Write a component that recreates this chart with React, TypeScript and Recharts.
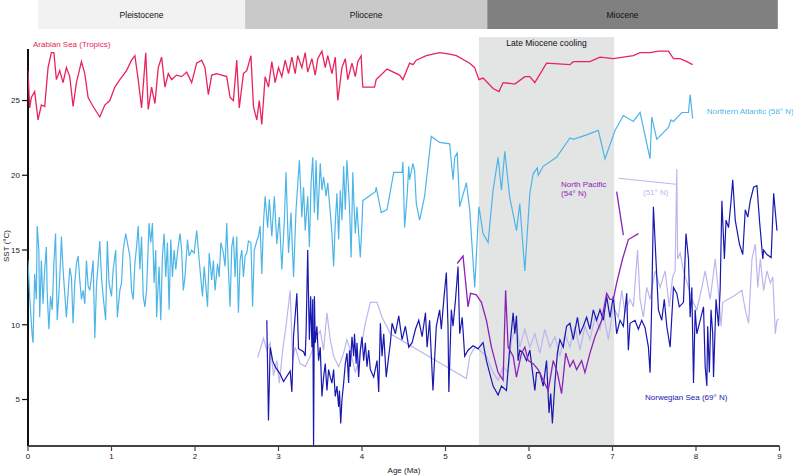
import React from 'react';
import { BarChart, Bar, ComposedChart, Line, XAxis, YAxis, ReferenceArea, ReferenceLine, LabelList } from 'recharts';

type Pt = [number, number]; // [age in Ma, SST in °C]

const ageTicks = [0, 1, 2, 3, 4, 5, 6, 7, 8, 9];
const sstTicks = [5, 10, 15, 20, 25];

const eraNames = ['Pleistocene', 'Pliocene', 'Miocene'];
const eraStart = [0.12, 2.6, 5.5];
const eraEnd = [2.6, 5.5, 8.98];
const eraFills = ['#f2f2f2', '#c9c9c9', '#808080'];
const eraLabelShift = [0, 0, -10];

const coolingStart = 5.4;
const coolingEnd = 7.02;

const arabianSea: Pt[] = [
  [0, 27.0], [0.02, 24.5], [0.04, 25.2], [0.08, 25.6], [0.12, 23.7], [0.16, 24.7], [0.2, 24.6], [0.24, 27.2],
  [0.28, 28.2], [0.31, 28.2], [0.34, 26.4], [0.38, 27.0], [0.42, 26.2], [0.46, 27.2], [0.5, 26.6], [0.54, 24.6],
  [0.58, 26.2], [0.64, 27.6], [0.68, 26.8], [0.72, 25.2], [0.78, 24.6], [0.86, 23.9], [0.92, 24.7], [0.98, 25.0],
  [1.04, 25.9], [1.1, 26.4], [1.18, 27.0], [1.24, 27.7], [1.28, 28.0], [1.32, 26.4], [1.36, 24.5], [1.41, 28.2],
  [1.44, 24.4], [1.48, 25.9], [1.52, 24.8], [1.56, 27.2], [1.6, 27.9], [1.64, 25.9], [1.68, 26.8], [1.72, 26.4],
  [1.78, 26.7], [1.84, 26.6], [1.9, 26.9], [1.96, 26.2], [2.02, 27.5], [2.08, 27.7], [2.12, 27.2], [2.16, 25.4],
  [2.2, 26.7], [2.26, 26.8], [2.32, 26.7], [2.38, 26.6], [2.42, 25.2], [2.46, 25.0], [2.5, 27.7], [2.53, 24.5],
  [2.58, 26.8], [2.62, 27.0], [2.67, 28.0], [2.7, 24.6], [2.74, 23.7], [2.77, 25.0], [2.8, 23.4], [2.84, 26.6],
  [2.88, 25.9], [2.92, 27.6], [2.96, 26.2], [3.0, 27.2], [3.04, 26.6], [3.08, 27.7], [3.12, 26.8], [3.16, 27.9],
  [3.2, 26.8], [3.23, 28.0], [3.28, 27.2], [3.32, 28.2], [3.35, 26.9], [3.4, 27.8], [3.44, 26.7], [3.47, 27.8],
  [3.52, 28.3], [3.56, 27.2], [3.59, 28.0], [3.64, 26.8], [3.68, 27.9], [3.71, 25.0], [3.76, 27.2], [3.8, 27.8],
  [3.83, 26.4], [3.88, 27.5], [3.92, 26.6], [3.95, 27.6], [3.99, 28.0], [4.0, 26.8], [4.01, 25.9], [4.15, 25.9],
  [4.17, 26.4], [4.3, 27.1], [4.45, 26.7], [4.49, 26.4], [4.57, 27.5], [4.61, 27.4], [4.65, 27.7], [4.77, 28.0],
  [4.93, 28.2], [5.05, 28.1], [5.13, 28.0], [5.29, 27.5], [5.35, 27.2], [5.4, 26.4], [5.45, 26.5], [5.57, 25.8],
  [5.64, 25.6], [5.69, 26.2], [5.83, 26.1], [5.95, 26.6], [6.01, 26.6], [6.07, 26.2], [6.21, 27.5], [6.49, 27.4],
  [6.53, 27.6], [6.73, 27.6], [6.85, 27.9], [7.01, 27.8], [7.25, 28.0], [7.33, 28.2], [7.45, 28.2], [7.55, 28.3],
  [7.67, 28.3], [7.73, 27.8], [7.81, 27.8], [7.89, 27.6], [7.96, 27.4],
];

const northAtlantic: Pt[] = [
  [0, 14.3], [0.02, 11.9], [0.05, 9.3], [0.06, 8.8], [0.08, 13.4], [0.1, 11.7], [0.11, 16.6], [0.13, 15.0],
  [0.14, 10.5], [0.16, 14.3], [0.18, 11.4], [0.2, 13.7], [0.22, 15.2], [0.23, 12.1], [0.25, 9.7], [0.27, 11.9],
  [0.29, 11.0], [0.31, 14.1], [0.33, 16.1], [0.35, 10.3], [0.37, 12.1], [0.39, 14.3], [0.4, 15.9], [0.42, 13.7],
  [0.44, 12.1], [0.46, 10.5], [0.48, 12.1], [0.5, 13.8], [0.52, 13.2], [0.54, 10.1], [0.56, 12.8], [0.58, 14.1],
  [0.6, 14.6], [0.62, 13.0], [0.64, 11.7], [0.66, 12.3], [0.68, 11.4], [0.7, 14.3], [0.72, 12.6], [0.74, 12.3],
  [0.76, 13.2], [0.78, 14.3], [0.8, 9.1], [0.82, 12.6], [0.84, 14.1], [0.86, 15.6], [0.88, 13.2], [0.9, 11.9],
  [0.93, 10.3], [0.95, 15.6], [0.97, 12.8], [1.0, 11.9], [1.02, 13.7], [1.05, 15.0], [1.07, 10.5], [1.1, 12.3],
  [1.12, 12.8], [1.14, 15.0], [1.17, 16.1], [1.2, 15.2], [1.22, 14.6], [1.24, 12.3], [1.26, 11.7], [1.28, 14.1],
  [1.3, 15.2], [1.32, 16.6], [1.34, 13.7], [1.36, 15.9], [1.38, 11.9], [1.4, 11.2], [1.42, 12.3], [1.45, 16.8],
  [1.47, 15.5], [1.49, 16.8], [1.51, 12.8], [1.53, 15.0], [1.54, 10.5], [1.57, 13.9], [1.59, 10.3], [1.61, 14.6],
  [1.63, 16.1], [1.65, 13.2], [1.67, 15.5], [1.69, 11.0], [1.71, 15.7], [1.73, 13.2], [1.75, 15.0], [1.77, 13.7],
  [1.79, 14.8], [1.82, 16.1], [1.84, 15.0], [1.86, 12.3], [1.88, 13.2], [1.91, 15.7], [1.93, 14.6], [1.96, 15.0],
  [1.99, 14.8], [2.02, 16.3], [2.04, 15.0], [2.06, 13.7], [2.09, 11.9], [2.11, 13.9], [2.13, 12.6], [2.15, 11.2],
  [2.17, 14.8], [2.2, 13.0], [2.22, 14.3], [2.24, 12.3], [2.27, 14.1], [2.29, 13.2], [2.31, 15.5], [2.34, 14.8],
  [2.36, 13.9], [2.38, 16.8], [2.4, 13.7], [2.42, 11.2], [2.44, 15.2], [2.46, 15.9], [2.48, 13.2], [2.5, 15.9],
  [2.52, 10.8], [2.54, 14.3], [2.56, 15.0], [2.58, 13.2], [2.6, 14.6], [2.62, 14.8], [2.64, 15.6], [2.67, 15.5],
  [2.69, 11.2], [2.71, 15.0], [2.74, 15.6], [2.76, 15.9], [2.78, 16.6], [2.8, 13.4], [2.82, 16.8], [2.84, 18.6],
  [2.87, 16.5], [2.89, 18.4], [2.92, 15.9], [2.95, 18.6], [2.98, 15.4], [3.01, 17.2], [3.04, 13.7], [3.07, 17.0],
  [3.09, 20.2], [3.12, 14.8], [3.15, 17.5], [3.18, 13.2], [3.21, 17.7], [3.25, 21.0], [3.28, 17.2], [3.3, 19.2],
  [3.32, 16.3], [3.35, 18.6], [3.37, 15.2], [3.39, 19.5], [3.41, 21.2], [3.43, 17.5], [3.45, 21.0], [3.47, 17.0],
  [3.5, 20.8], [3.52, 19.0], [3.54, 19.9], [3.57, 18.6], [3.59, 19.5], [3.62, 17.5], [3.64, 16.1], [3.66, 13.9],
  [3.68, 16.8], [3.7, 18.8], [3.72, 15.7], [3.74, 19.0], [3.76, 17.0], [3.78, 20.6], [3.8, 17.7], [3.82, 21.0],
  [3.85, 17.9], [3.87, 14.5], [3.89, 20.2], [3.9, 18.6], [3.92, 16.1], [3.94, 17.9], [3.96, 16.1], [3.98, 14.5],
  [4.0, 16.8], [4.01, 18.3], [4.16, 18.9], [4.17, 19.2], [4.23, 17.5], [4.3, 17.7], [4.38, 20.2], [4.48, 20.2],
  [4.49, 20.9], [4.51, 16.5], [4.54, 18.6], [4.56, 20.6], [4.57, 19.7], [4.61, 20.8], [4.63, 20.3], [4.65, 18.1],
  [4.69, 17.0], [4.75, 18.6], [4.83, 22.6], [4.93, 22.2], [5.05, 22.1], [5.09, 19.7], [5.11, 21.2], [5.14, 21.5],
  [5.17, 17.9], [5.25, 19.5], [5.29, 17.7], [5.35, 12.5], [5.4, 17.9], [5.45, 16.1], [5.51, 15.5], [5.57, 19.0],
  [5.63, 21.2], [5.67, 19.0], [5.71, 21.6], [5.77, 18.5], [5.85, 16.3], [5.89, 18.1], [5.95, 13.6], [6.01, 18.8],
  [6.05, 20.1], [6.1, 20.5], [6.11, 20.0], [6.17, 20.6], [6.33, 21.2], [6.49, 22.5], [6.53, 22.4], [6.69, 22.7],
  [6.83, 23.0], [6.91, 21.1], [7.03, 23.0], [7.13, 24.0], [7.25, 23.6], [7.33, 24.2], [7.45, 21.1], [7.47, 23.9],
  [7.53, 22.4], [7.67, 23.2], [7.7, 23.7], [7.73, 23.6], [7.83, 24.2], [7.91, 24.2], [7.93, 25.4], [7.96, 23.8],
];

const norwegianSea: Pt[] = [
  [2.86, 10.3], [2.88, 3.6], [2.9, 8.5], [2.93, 7.6], [2.96, 7.2], [3.02, 6.7], [3.06, 6.2], [3.14, 6.9],
  [3.16, 5.5], [3.18, 9.2], [3.22, 12.1], [3.24, 8.4], [3.3, 8.2], [3.32, 7.9], [3.33, 9.4], [3.35, 15.0],
  [3.36, 11.7], [3.37, 9.0], [3.385, 11.9], [3.4, 8.5], [3.41, 11.7], [3.42, 1.8], [3.43, 11.9], [3.44, 8.8],
  [3.46, 9.9], [3.48, 7.6], [3.5, 8.5], [3.52, 5.2], [3.54, 6.5], [3.56, 7.4], [3.58, 5.6], [3.6, 7.0],
  [3.62, 6.5], [3.64, 6.1], [3.66, 7.0], [3.68, 5.2], [3.7, 5.9], [3.72, 4.5], [3.73, 5.6], [3.745, 3.4],
  [3.76, 5.0], [3.78, 6.1], [3.8, 7.4], [3.82, 8.1], [3.84, 6.1], [3.85, 8.3], [3.86, 7.2], [3.88, 9.2],
  [3.9, 7.9], [3.91, 9.4], [3.93, 7.4], [3.94, 8.8], [3.96, 6.5], [3.98, 8.3], [4.0, 9.2], [4.02, 7.6],
  [4.04, 8.8], [4.06, 7.2], [4.08, 8.3], [4.1, 7.0], [4.14, 6.5], [4.18, 7.6], [4.2, 5.5], [4.22, 10.1],
  [4.24, 7.9], [4.26, 9.4], [4.29, 6.5], [4.32, 7.9], [4.34, 8.8], [4.36, 10.1], [4.4, 9.4], [4.44, 10.6],
  [4.48, 9.0], [4.52, 9.9], [4.56, 8.5], [4.6, 8.8], [4.64, 9.7], [4.68, 10.3], [4.72, 9.2], [4.76, 10.8],
  [4.78, 8.5], [4.81, 10.3], [4.85, 5.6], [4.89, 9.9], [4.93, 11.0], [4.95, 9.7], [4.98, 11.7], [5.01, 13.5],
  [5.03, 9.9], [5.04, 5.5], [5.07, 11.0], [5.09, 9.9], [5.12, 11.7], [5.15, 13.9], [5.17, 9.4], [5.2, 10.5],
  [5.23, 7.9], [5.27, 8.3], [5.33, 8.6], [5.39, 8.4], [5.45, 8.8], [5.49, 7.6], [5.57, 5.9], [5.63, 5.3],
  [5.67, 5.9], [5.73, 5.6], [5.77, 8.5], [5.81, 10.8], [5.83, 9.4], [5.85, 10.6], [5.87, 7.6], [5.89, 8.3],
  [5.93, 8.1], [5.97, 7.6], [6.01, 8.3], [6.07, 5.6], [6.09, 6.8], [6.13, 6.8], [6.17, 5.9], [6.21, 7.6],
  [6.24, 4.1], [6.26, 5.4], [6.28, 3.4], [6.31, 6.1], [6.34, 8.1], [6.37, 9.0], [6.41, 8.5], [6.45, 9.9],
  [6.49, 10.1], [6.53, 9.0], [6.58, 10.5], [6.61, 9.4], [6.65, 9.9], [6.69, 10.5], [6.73, 9.7], [6.77, 11.0],
  [6.81, 10.3], [6.85, 11.0], [6.89, 10.3], [6.93, 11.9], [6.97, 10.5], [7.01, 11.9], [7.05, 9.4], [7.09, 10.3],
  [7.13, 9.9], [7.17, 12.1], [7.19, 8.3], [7.21, 10.1], [7.27, 10.3], [7.31, 9.7], [7.35, 10.3], [7.39, 9.8],
  [7.43, 8.5], [7.45, 6.8], [7.47, 11.5], [7.49, 17.9], [7.52, 14.4], [7.55, 11.0], [7.59, 10.3], [7.62, 11.7],
  [7.65, 9.9], [7.69, 8.5], [7.73, 12.5], [7.77, 12.1], [7.8, 11.2], [7.85, 11.5], [7.88, 16.1], [7.91, 14.4],
  [7.93, 10.5], [7.95, 12.5], [7.97, 6.1], [7.99, 11.0], [8.01, 9.4], [8.05, 10.3], [8.09, 11.2], [8.11, 7.2],
  [8.13, 5.9], [8.14, 9.9], [8.16, 6.8], [8.18, 11.0], [8.2, 9.4], [8.21, 6.5], [8.24, 11.7], [8.27, 9.9],
  [8.29, 12.5], [8.31, 18.3], [8.34, 14.4], [8.36, 17.0], [8.39, 16.5], [8.42, 18.3], [8.44, 19.7], [8.47, 17.0],
  [8.52, 15.4], [8.56, 14.7], [8.59, 17.7], [8.62, 17.2], [8.65, 18.3], [8.69, 19.2], [8.73, 19.3], [8.76, 17.0],
  [8.8, 14.4], [8.81, 15.0], [8.85, 14.7], [8.9, 14.5], [8.93, 18.8], [8.97, 16.3],
];

const northPacific54: Pt[] = [
  [5.14, 14.1], [5.21, 14.6], [5.27, 11.2], [5.3, 12.1], [5.37, 12.0], [5.43, 11.5], [5.49, 10.3], [5.55, 8.5],
  [5.63, 6.8], [5.69, 6.3], [5.72, 12.3], [5.75, 8.5], [5.81, 7.9], [5.85, 6.5], [5.91, 8.1], [5.95, 8.5],
  [5.99, 7.6], [6.05, 7.4], [6.11, 7.0], [6.17, 6.3], [6.23, 5.6], [6.29, 7.6], [6.34, 6.8], [6.39, 5.4],
  [6.44, 8.1], [6.49, 7.2], [6.53, 7.6], [6.57, 7.0], [6.63, 7.6], [6.67, 6.8], [6.73, 8.1], [6.79, 9.2],
  [6.87, 10.3], [6.93, 12.1], [6.97, 11.7], [7.01, 11.7], [7.05, 12.8], [7.12, 14.4], [7.19, 15.7], [7.31, 16.1],
];
const northPacific54Upper: Pt[] = [[7.05, 18.9], [7.13, 16.0]];

const northPacific51: Pt[] = [
  [2.75, 7.8], [2.82, 9.1], [2.86, 8.3], [2.9, 8.8], [2.94, 6.6], [2.98, 7.6], [3.01, 6.1], [3.05, 8.3],
  [3.09, 9.9], [3.14, 12.3], [3.17, 7.6], [3.2, 8.5], [3.26, 7.4], [3.32, 7.2], [3.38, 7.9], [3.46, 9.2],
  [3.5, 9.6], [3.54, 8.3], [3.58, 10.8], [3.62, 9.0], [3.66, 7.9], [3.72, 7.2], [3.78, 8.1], [3.82, 9.0],
  [3.86, 8.3], [3.92, 6.8], [3.96, 7.6], [4.04, 10.1], [4.1, 11.5], [4.18, 11.5], [4.24, 10.5], [4.34, 9.4],
  [5.25, 6.4], [5.29, 7.9], [5.35, 8.5], [5.41, 8.3], [5.49, 7.9], [5.57, 6.8], [5.63, 6.3], [5.69, 7.2],
  [5.75, 6.8], [5.79, 9.0], [5.85, 9.9], [5.89, 8.5], [5.95, 9.7], [6.01, 8.5], [6.07, 9.4], [6.13, 8.1],
  [6.19, 9.7], [6.25, 8.5], [6.31, 9.2], [6.37, 7.9], [6.43, 9.4], [6.49, 8.5], [6.55, 9.9], [6.61, 8.3],
  [6.67, 9.9], [6.73, 9.0], [6.79, 10.5], [6.85, 9.7], [6.89, 10.8], [6.95, 9.0], [7.01, 11.2], [7.07, 10.5],
  [7.11, 12.3], [7.15, 10.8], [7.21, 11.7], [7.25, 11.2], [7.3, 15.0], [7.33, 11.7], [7.37, 10.5], [7.41, 12.5],
  [7.45, 11.7], [7.51, 13.6], [7.57, 12.5], [7.63, 13.6], [7.68, 11.2], [7.72, 13.2], [7.75, 13.6], [7.77, 20.4],
  [7.78, 14.4], [7.81, 14.8], [7.85, 13.6], [7.91, 12.5], [7.95, 11.7], [8.01, 11.0], [8.07, 12.5], [8.11, 13.6],
  [8.17, 11.7], [8.23, 14.4], [8.27, 12.1], [8.3, 9.9], [8.32, 11.5], [8.45, 11.9], [8.55, 12.3], [8.59, 11.0],
  [8.63, 10.1], [8.67, 14.4], [8.71, 15.4], [8.74, 12.5], [8.77, 14.4], [8.81, 12.3], [8.85, 13.6], [8.89, 12.8],
  [8.92, 13.2], [8.95, 9.4], [8.97, 10.3], [8.99, 10.4],
];
const northPacific51Upper: Pt[] = [[7.07, 19.8], [7.76, 19.4]];

const COLORS = {
  arabian: '#e8245a',
  atlantic: '#4cb5e8',
  norwegian: '#1818b0',
  pacific54: '#8b22b8',
  pacific51: '#bdb6ee',
};

const FONT = '"Liberation Sans", Arial, sans-serif';
const Y_MIN = 1.89;
const Y_MAX = 29.25;
const AXIS_TOP = 28.45;

const toRows = (pts: Pt[]) => pts.map(([age, sst]) => ({ age, sst }));

const eraRow = [
  eraNames.reduce<Record<string, number | string>>(
    (row, name, i) => ({ ...row, [name]: eraEnd[i] - eraStart[i] }),
    { name: 'era', pad: eraStart[0] }
  ),
];

const tickStyle = { fontSize: 8, fill: '#222', fontFamily: FONT };

const label = (left: number, top: number, color: string): React.CSSProperties => ({
  position: 'absolute',
  left,
  top,
  color,
  fontSize: 8,
  lineHeight: '9px',
  fontFamily: FONT,
  whiteSpace: 'nowrap',
});

const series: { key: string; pts: Pt[]; color: string; width: number }[] = [
  { key: 'arabian', pts: arabianSea, color: COLORS.arabian, width: 1.3 },
  { key: 'atlantic', pts: northAtlantic, color: COLORS.atlantic, width: 1.2 },
  { key: 'p51', pts: northPacific51, color: COLORS.pacific51, width: 1.2 },
  { key: 'p51u', pts: northPacific51Upper, color: COLORS.pacific51, width: 1.2 },
  { key: 'norwegian', pts: norwegianSea, color: COLORS.norwegian, width: 1.2 },
  { key: 'p54', pts: northPacific54, color: COLORS.pacific54, width: 1.3 },
  { key: 'p54u', pts: northPacific54Upper, color: COLORS.pacific54, width: 1.3 },
];

// era names drawn in the middle of each stacked segment
const eraLabel = (name: string, shift: number) => (props: any) => {
  const x = Number(props.x) + Number(props.width) / 2 + shift;
  const y = Number(props.y) + Number(props.height) / 2;
  return (
    <text x={x} y={y} textAnchor="middle" dominantBaseline="central" fontSize={8.5} fill="#111" fontFamily={FONT}>
      {name}
    </text>
  );
};

export default function App() {
  return (
    <div style={{ position: 'fixed', left: 0, top: 0, width: 793, height: 476, background: '#fff', fontFamily: FONT }}>
      <div style={{ position: 'absolute', left: 0, top: 0 }}>
        <BarChart
          width={793}
          height={29}
          data={eraRow}
          layout="vertical"
          margin={{ top: 0, right: 13.5, bottom: 0, left: 28 }}
          barCategoryGap={0}
        >
          <XAxis type="number" domain={[0, 9]} hide />
          <YAxis type="category" dataKey="name" hide />
          <Bar dataKey="pad" stackId="era" fill="transparent" isAnimationActive={false} />
          {eraNames.map((name, i) => (
            <Bar key={name} dataKey={name} stackId="era" fill={eraFills[i]} isAnimationActive={false}>
              <LabelList dataKey={name} content={eraLabel(name, eraLabelShift[i])} />
            </Bar>
          ))}
        </BarChart>
      </div>

      <div style={{ position: 'absolute', left: 0, top: 0 }}>
        <ComposedChart width={793} height={476} margin={{ top: 37, right: 13.5, bottom: 0, left: 0 }}>
          <ReferenceArea
            x1={coolingStart}
            x2={coolingEnd}
            y1={Y_MIN}
            y2={Y_MAX}
            fill="#e3e4e4"
            fillOpacity={1}
            stroke="none"
            label={{ value: 'Late Miocene cooling', position: 'insideTop', offset: 3, fontSize: 8.5, fill: '#111', fontFamily: FONT }}
          />
          <XAxis
            type="number"
            dataKey="age"
            domain={[0, 9]}
            ticks={ageTicks}
            allowDataOverflow
            height={30}
            tickSize={5}
            tick={tickStyle}
            axisLine={{ stroke: '#444', strokeWidth: 2 }}
            tickLine={{ stroke: '#444', strokeWidth: 1.2 }}
          />
          <YAxis
            type="number"
            domain={[Y_MIN, Y_MAX]}
            ticks={sstTicks}
            allowDataOverflow
            width={28}
            tickSize={6}
            tick={tickStyle}
            axisLine={false}
            tickLine={{ stroke: '#111', strokeWidth: 1.2 }}
          />
          <ReferenceLine
            segment={[{ x: 0, y: Y_MIN }, { x: 0, y: AXIS_TOP }]}
            stroke="#111"
            strokeWidth={2}
            ifOverflow="visible"
          />
          {series.map((s) => (
            <Line
              key={s.key}
              data={toRows(s.pts)}
              dataKey="sst"
              type="linear"
              stroke={s.color}
              strokeWidth={s.width}
              dot={false}
              activeDot={false}
              isAnimationActive={false}
            />
          ))}
        </ComposedChart>
      </div>

      <div style={label(33, 40, COLORS.arabian)}>Arabian Sea (Tropics)</div>
      <div style={label(707, 107, COLORS.atlantic)}>Northern Atlantic (58° N)</div>
      <div style={label(561, 180, COLORS.pacific54)}>
        North Pacific
        <br />
        (54° N)
      </div>
      <div style={label(643, 188, COLORS.pacific51)}>(51° N)</div>
      <div style={label(645, 393, COLORS.norwegian)}>Norwegian Sea (69° N)</div>
      <div
        style={{
          ...label(0, 0, '#222'),
          left: 6,
          top: 246,
          transform: 'translate(-50%, -50%) rotate(-90deg)',
        }}
      >
        SST (°C)
      </div>
      <div style={{ ...label(0, 0, '#222'), left: 404, top: 470, transform: 'translate(-50%, -50%)' }}>Age (Ma)</div>
    </div>
  );
}
